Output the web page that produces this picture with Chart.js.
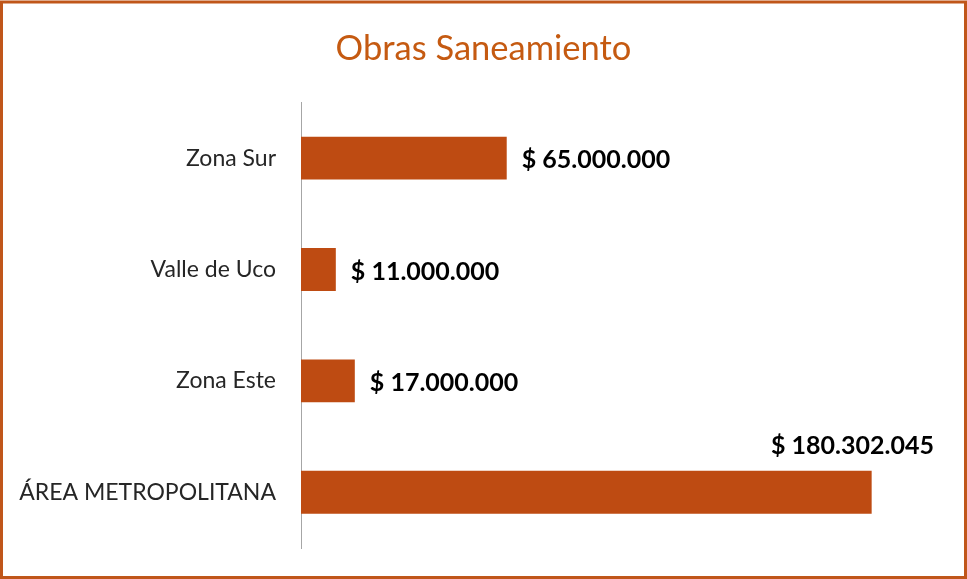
<!DOCTYPE html>
<html>
<head>
<meta charset="utf-8">
<script src="https://cdn.jsdelivr.net/npm/chart.js@4"></script>
<style>
    html, body { margin: 0; padding: 0; background: #ffffff; }
    #wrap { width: 967px; height: 579px; }
</style>
</head>
<body>
<div id="wrap"><canvas id="chart" width="967" height="579"></canvas></div>
<script>
const zones = ["Zona Sur", "Valle de Uco", "Zona Este", "ÁREA METROPOLITANA"]
const amounts = [65000000, 11000000, 17000000, 180302045]

const barColor = "#be4b12"
const titleColor = "#c55a11"

const formatPesos = (value) => {
    const parts = []
    let rest = Math.round(value).toString()
    while (rest.length > 3) {
        parts.unshift(rest.slice(-3))
        rest = rest.slice(0, -3)
    }
    parts.unshift(rest)
    return "$ " + parts.join(".")
}

// frame around the whole picture
const framePlugin = {
    id: "frame",
    beforeDraw: (chart) => {
        const { ctx, width, height } = chart
        ctx.save()
        ctx.fillStyle = "#ffffff"
        ctx.fillRect(0, 0, width, height)
        ctx.strokeStyle = "#c0561a"
        ctx.lineWidth = 3
        ctx.strokeRect(1.5, 2, width - 3, height - 3.5)
        ctx.restore()
    },
}

// value labels at bar ends, put above the bar if it does not fit
const valueLabels = {
    id: "valueLabels",
    afterDatasetsDraw: (chart) => {
        const { ctx, chartArea } = chart
        const meta = chart.getDatasetMeta(0)
        ctx.save()
        ctx.font = "bold 25px Lato"
        ctx.fillStyle = "#000000"
        ctx.textBaseline = "middle"
        meta.data.forEach((bar, i) => {
            const text = formatPesos(amounts[i])
            const w = ctx.measureText(text).width
            if (bar.x + 15 + w > chartArea.right) {
                ctx.textAlign = "right"
                ctx.fillText(text, chartArea.right, bar.y - bar.height / 2 - 25)
            } else {
                ctx.textAlign = "left"
                ctx.fillText(text, bar.x + 15, bar.y + 2)
            }
        })
        ctx.restore()
    },
}

const config = {
    type: "bar",
    data: {
        labels: zones,
        datasets: [
            {
                data: amounts,
                backgroundColor: barColor,
                borderWidth: 0,
                categoryPercentage: 1,
                barPercentage: 0.385,
            },
        ],
    },
    options: {
        indexAxis: "y",
        responsive: false,
        animation: false,
        layout: {
            padding: { top: 0, right: 0, bottom: 31, left: 0 },
        },
        plugins: {
            legend: { display: false },
            tooltip: { enabled: false },
            title: {
                display: true,
                text: "Obras Saneamiento",
                color: titleColor,
                font: { family: "Lato", size: 34.5, weight: "normal" },
                padding: { top: 28, bottom: 33 },
            },
        },
        scales: {
            x: {
                display: false,
                min: 0,
                max: 200000000,
            },
            y: {
                afterFit: (scale) => {
                    scale.width = 301
                    // tick padding should not push the chart area in
                    scale.paddingTop = 0
                    scale.paddingBottom = 0
                },
                border: {
                    display: true,
                    color: "#a6a6a6",
                    width: 1,
                },
                grid: {
                    display: false,
                    drawTicks: false,
                },
                ticks: {
                    padding: 25,
                    color: "#262626",
                    font: { family: "Lato", size: 23 },
                },
            },
            // empty right-hand axis, only keeps space free right of the bars
            spacer: {
                type: "linear",
                axis: "y",
                position: "right",
                afterFit: (scale) => {
                    scale.width = 33
                    scale.paddingTop = 0
                    scale.paddingBottom = 0
                },
                border: { display: false },
                grid: { display: false },
                ticks: { display: false },
            },
        },
    },
    plugins: [framePlugin, valueLabels],
}

const chart = new Chart(document.getElementById("chart"), config)
</script>
</body>
</html>
